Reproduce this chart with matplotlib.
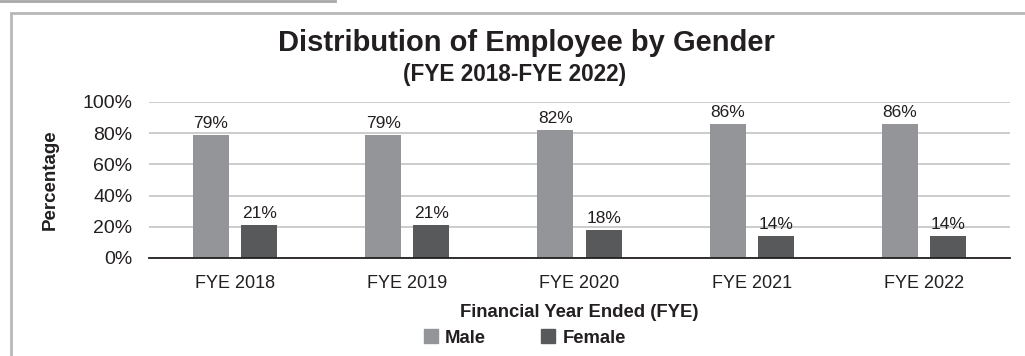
import matplotlib
matplotlib.use("Agg")
import matplotlib.pyplot as plt
from matplotlib.patches import Rectangle
from matplotlib.lines import Line2D
import numpy as np

plt.rcParams['font.family'] = ['Liberation Sans', 'DejaVu Sans']

years = ["FYE 2018", "FYE 2019", "FYE 2020", "FYE 2021", "FYE 2022"]
male = [79, 79, 82, 86, 86]
female = [21, 21, 18, 14, 14]
yticks = [0, 20, 40, 60, 80, 100]

male_color = "#939598"
female_color = "#58595b"
text_color = "#231f20"

fig = plt.figure(figsize=(10.25, 3.56), dpi=100)
ax = fig.add_axes([149 / 1025, 1 - 258 / 356, 861 / 1025, 156 / 356])

x = np.arange(len(years))
off = 0.14
w = 0.21
bm = ax.bar(x - off, male, w, color=male_color, zorder=3)
bf = ax.bar(x + off, female, w, color=female_color, zorder=3)

for bars, vals in ((bm, male), (bf, female)):
    for b, v in zip(bars, vals):
        ax.text(b.get_x() + b.get_width() / 2, v + 2.5, f"{v}%",
                ha="center", va="bottom", fontsize=12.5, color=text_color)

ax.set_xlim(-0.5, len(years) - 0.5)
ax.set_ylim(0, 100)
ax.set_yticks(yticks)
ax.set_yticklabels([f"{t}%" for t in yticks])
ax.set_xticks(x)
ax.set_xticklabels(years)
ax.tick_params(axis="both", length=0, colors=text_color)
ax.tick_params(axis="y", labelsize=14, pad=12)
ax.tick_params(axis="x", labelsize=13, pad=12)
ax.grid(axis="y", color="#cccccc", linewidth=1.4, zorder=0)
for s in ("top", "right", "left"):
    ax.spines[s].set_visible(False)
ax.spines["bottom"].set_color("#231f20")
ax.spines["bottom"].set_linewidth(1.3)
ax.spines["bottom"].set_zorder(4)

ax.set_ylabel("Percentage", fontsize=13.5, fontweight="bold", color=text_color)
ax.yaxis.set_label_coords(-0.118 + 11 / 861, 0.5)
ax.set_xlabel("Financial Year Ended (FYE)", fontsize=13.3, fontweight="bold",
              color=text_color, labelpad=9)

fig.text(526 / 1025, 1 - 43 / 356, "Distribution of Employee by Gender",
         ha="center", va="center", fontsize=21, fontweight="bold", color=text_color)
fig.text(515 / 1025, 1 - 75 / 356, "(FYE 2018-FYE 2022)",
         ha="center", va="center", fontsize=16.3, fontweight="bold", color=text_color)

handles = [Rectangle((0, 0), 1, 1, color=male_color),
           Rectangle((0, 0), 1, 1, color=female_color)]
leg = fig.legend(handles, ["Male", "Female"], loc="center",
                 bbox_to_anchor=(0.512, 1 - 338 / 356), ncol=2, frameon=False,
                 prop={"size": 13.3, "weight": "bold"}, handlelength=0.75,
                 handleheight=0.75, handletextpad=0.4, columnspacing=3.0)
for t in leg.get_texts():
    t.set_color(text_color)

# outer frame and top rule
fig.add_artist(Rectangle((11 / 1025, -0.1), 1.2, 1 - 13 / 356 + 0.1,
                         transform=fig.transFigure, fill=False,
                         edgecolor="#b8b8b8", linewidth=2.0))
fig.add_artist(Line2D([0, 335 / 1025], [1 - 1 / 356, 1 - 1 / 356],
                      transform=fig.transFigure, color="#a8a8a8", linewidth=2.0))

fig.savefig("out.png", dpi=100)
